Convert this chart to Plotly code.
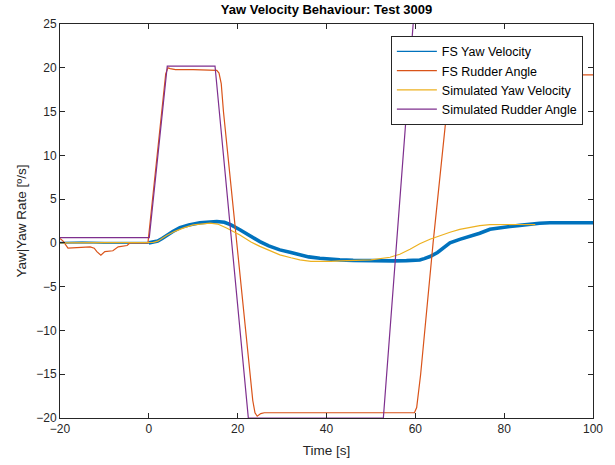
import plotly.graph_objects as go

# FS yaw velocity (measured)
fs_yaw_t = [-20, -15, -10, -5, -2, 0, 1, 2, 3, 4, 5.4, 7, 9, 11.5, 13, 15.3, 17, 18.5, 20.5, 22.5,
            25, 27, 29.5, 32, 34, 36, 38.5, 41, 43, 46, 50, 55, 58, 60, 61, 62, 63.3, 65, 67.8, 70,
            72.3, 74.5, 76.8, 79, 81.3, 83.5, 85.8, 88, 90.3, 95, 100]
fs_yaw_v = [0, 0.05, 0, 0, 0, 0, 0.05, 0.2, 0.5, 0.85, 1.3, 1.75, 2.05, 2.3, 2.4, 2.45, 2.35, 2.05, 1.5, 0.85,
            0.15, -0.35, -0.8, -1.1, -1.37, -1.6, -1.75, -1.88, -1.94, -2.0, -2.05, -2.05, -2.02, -2.0, -1.95, -1.8, -1.56, -1.1, 0, 0.4,
            0.72, 1.1, 1.56, 1.75, 1.87, 2.0, 2.17, 2.25, 2.3, 2.3, 2.3]

# FS rudder angle (measured)
fs_rud_t = [-20, -19.3, -18.2, -16, -13.2, -12.3, -11.7, -10.8, -9.9, -8.1, -6.9, -4.9, -4.2, -2, -0.2,
            3.8, 4.3, 4.8, 6, 10, 15.3, 15.8, 16.3, 16.8, 19.8, 22.8, 23.4, 23.9, 24.4, 25.2, 26, 40,
            59.8, 60.3, 60.8, 61.2, 64, 67, 67.8, 68.3, 69, 100]
fs_rud_v = [0.5, 0.2, -0.6, -0.5, -0.45, -0.6, -1.0, -1.4, -1.0, -0.9, -0.45, -0.3, 0.0, 0.0, 0.0,
            19.3, 20.0, 19.9, 19.8, 19.8, 19.7, 19.4, 18.2, 15, 0, -15, -18, -19.4, -19.8, -19.5, -19.4, -19.4,
            -19.4, -18.8, -17, -15, 0, 15, 18.6, 19.1, 19.2, 19.2]

# Simulated yaw velocity
sim_yaw_t = [-20, 0, 1, 2, 3, 4, 6, 8, 10, 12, 13.8, 15.5, 17.5, 20.5, 23, 25, 27, 29.5, 32, 34,
             36.5, 38.5, 41, 43, 46, 50, 54.3, 56.5, 58.8, 61, 63.3, 65.5, 67.8, 70, 72.3, 74.5, 76.8, 80, 83, 87]
sim_yaw_v = [0, 0, 0.05, 0.2, 0.5, 0.85, 1.35, 1.75, 2.05, 2.2, 2.25, 2.15, 1.7, 0.9, 0.1, -0.4, -0.85, -1.37, -1.7, -1.94,
             -2.1, -2.13, -2.1, -2.05, -2.0, -1.95, -1.64, -1.3, -0.72, -0.1, 0.42, 0.85, 1.22, 1.55, 1.79, 1.97, 2.09, 2.12, 2.1, 2.09]

# Simulated rudder angle
sim_rud_t = [-20, 0.1, 4.15, 14.9, 22.4, 52.8, 61]
sim_rud_v = [0.6, 0.6, 20.2, 20.2, -20, -20, 35]

x_ticks = [-20, 0, 20, 40, 60, 80, 100]
y_ticks = [-20, -15, -10, -5, 0, 5, 10, 15, 20, 25]

names = ["FS Yaw Velocity", "FS Rudder Angle", "Simulated Yaw Velocity", "Simulated Rudder Angle"]
colors = ["#0072BD", "#D95319", "#EDB120", "#7E2F8E"]

FONT = "Liberation Sans, Arial, sans-serif"

fig = go.Figure()

# measured yaw: thin before manoeuvre, thicker (noisy band) after
split = fs_yaw_t.index(0)
fig.add_trace(go.Scatter(x=fs_yaw_t[:split + 1], y=fs_yaw_v[:split + 1], mode="lines",
                         line=dict(color=colors[0], width=2.2), opacity=0.85,
                         showlegend=False, hoverinfo="skip"))
fig.add_trace(go.Scatter(x=fs_yaw_t[split:], y=fs_yaw_v[split:], mode="lines",
                         line=dict(color=colors[0], width=3.6), showlegend=False))
fig.add_trace(go.Scatter(x=fs_rud_t, y=fs_rud_v, mode="lines",
                         line=dict(color=colors[1], width=1.2), showlegend=False))
fig.add_trace(go.Scatter(x=sim_yaw_t, y=sim_yaw_v, mode="lines",
                         line=dict(color=colors[2], width=1.2), showlegend=False))
fig.add_trace(go.Scatter(x=sim_rud_t, y=sim_rud_v, mode="lines",
                         line=dict(color=colors[3], width=1.2), showlegend=False))

# legend entries
for n, c in zip(names, colors):
    fig.add_trace(go.Scatter(x=[None], y=[None], mode="lines", name=n,
                             line=dict(color=c, width=1.2)))

axis_common = dict(
    showline=True, linecolor="#262626", linewidth=1, mirror="ticks",
    ticks="inside", ticklen=5, tickcolor="#262626", tickwidth=1,
    showgrid=False, zeroline=False, automargin=False,
    tickfont=dict(family=FONT, size=12, color="#262626"),
)

fig.update_layout(
    width=615, height=465,
    margin=dict(l=60, r=22, t=24, b=47),
    paper_bgcolor="white", plot_bgcolor="white",
    title=dict(text="<b>Yaw Velocity Behaviour: Test 3009</b>", x=0.531, xanchor="center",
               y=0.99, yanchor="top",
               font=dict(family=FONT, size=13, color="black")),
    xaxis=dict(range=[-20, 100], tickvals=x_ticks,
               title=dict(text="Time [s]", standoff=10,
                          font=dict(family=FONT, size=13.5, color="#262626")),
               **axis_common),
    yaxis=dict(range=[-20, 25], tickvals=y_ticks,
               title=dict(text="Yaw|Yaw Rate [º/s]", standoff=6,
                          font=dict(family=FONT, size=13.5, color="#262626")),
               **axis_common),
    legend=dict(x=0.981, xanchor="right", y=0.97, yanchor="top",
                bgcolor="white", bordercolor="#262626", borderwidth=1,
                font=dict(family=FONT, size=12.5, color="black"),
                itemwidth=40, tracegroupgap=0),
    showlegend=True,
)

fig.write_html("out.html")
